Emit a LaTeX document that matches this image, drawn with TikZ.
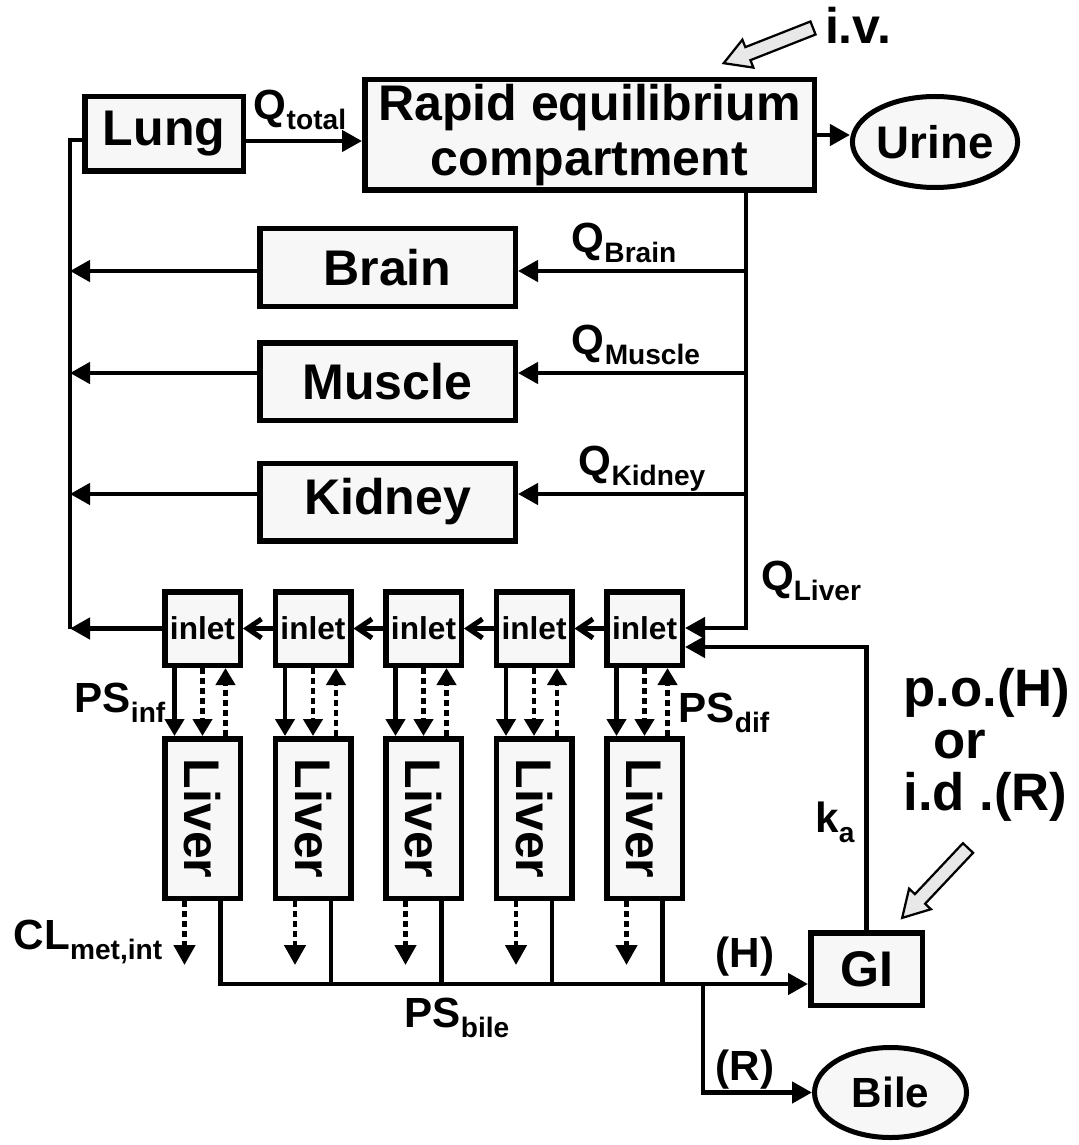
\documentclass[tikz,border=0pt]{standalone}
\usepackage{fontspec}
\setmainfont{Liberation Sans}
\usepackage{tikz}
\usetikzlibrary{positioning,arrows.meta,shapes.geometric}
\usepackage{xcolor}
\definecolor{PBPKFill}{RGB}{247,247,247}
\definecolor{PBPKDose}{RGB}{232,232,232}
\newcommand{\pkbig}{\fontsize{28.5}{31}\selectfont\bfseries}
\newcommand{\subtxt}[1]{\raisebox{-2mm}{\fontsize{16}{16}\selectfont #1}}

\begin{document}
\begin{tikzpicture}[
x=0.2mm,y=-0.2mm,
node distance=5.9mm,
box/.style={
rectangle,draw,line width=1.1mm,fill=PBPKFill,inner sep=0pt,font=\pkbig
},
organ/.style={box,minimum width=51.1mm,minimum height=15.5mm},
inlet/.style={box,minimum width=15.1mm,minimum height=14.7mm,font=\fontsize{18}{18}\selectfont\bfseries},
liver/.style={box,minimum width=15.1mm,minimum height=31.9mm},
pool/.style={ellipse,draw,line width=1mm,fill=PBPKFill,inner sep=0pt},
lbl/.style={inner sep=0pt,font=\fontsize{24}{24}\selectfont\bfseries},
flow/.style={line width=0.9mm},
arrow/.style={flow,-{Triangle[length=4mm,width=4.2mm]}},
shortarrow/.style={flow,-{Triangle[length=3.4mm,width=3.8mm]}},
dotarrow/.style={shortarrow,dash pattern=on 1.2mm off 0.8mm},
metarrow/.style={flow,dash pattern=on 1.2mm off 0.8mm,-{Triangle[length=4mm,width=4.2mm]}},
chain/.style={line width=1mm,-{Straight Barb[length=2.8mm,width=3.8mm]}},
dose/.style={draw,line width=0.45mm,fill=PBPKDose}
]
\useasboundingbox (0,0) rectangle (1078,1145);

% compartments
\node[box,minimum width=31.7mm,minimum height=14.9mm] (lung) at (164,134) {Lung};
\node[box,minimum width=89.9mm,minimum height=22.1mm,align=center] (rapid) at (589.5,135) {Rapid equilibrium\\compartment};
\node[pool,minimum width=29.8mm,minimum height=18.2mm,font=\fontsize{26}{26}\selectfont\bfseries] (urine) at (935,142) {Urine};
\node[organ] (brain) at (387.5,267.5) {Brain};
\node[organ] (muscle) at (387.5,381.5) {Muscle};
\node[organ] (kidney) at (387.5,502) {Kidney};

% liver, five units
\node[inlet] (in1) at (202.5,628.5) {inlet};
\node[inlet,right=of in1] (in2) {inlet};
\node[inlet,right=of in2] (in3) {inlet};
\node[inlet,right=of in3] (in4) {inlet};
\node[inlet,right=of in4] (in5) {inlet};
\node[liver,below=13.6mm of in1] (liv1) {\rotatebox{-90}{Liver}};
\node[liver,below=13.6mm of in2] (liv2) {\rotatebox{-90}{Liver}};
\node[liver,below=13.6mm of in3] (liv3) {\rotatebox{-90}{Liver}};
\node[liver,below=13.6mm of in4] (liv4) {\rotatebox{-90}{Liver}};
\node[liver,below=13.6mm of in5] (liv5) {\rotatebox{-90}{Liver}};

\node[box,minimum width=22.3mm,minimum height=14.5mm] (gi) at (866.5,969) {GI};
\node[pool,minimum width=30.4mm,minimum height=18mm,font=\fontsize{24}{24}\selectfont\bfseries] (bile) at (890.5,1092.5) {Bile};

% labels
\node[lbl] (qtot) at (300,110) {Q\subtxt{total}};
\node[lbl] (qbrain) at (624,243) {Q\subtxt{Brain}};
\node[lbl] (qmus) at (636,345) {Q\subtxt{Muscle}};
\node[lbl] (qkid) at (642,469) {Q\subtxt{Kidney}};
\node[lbl] (qliver) at (811,581) {Q\subtxt{Liver}};
\node[lbl] (psinf) at (120,703) {PS\subtxt{inf}};
\node[lbl] (psdif) at (724,713) {PS\subtxt{dif}};
\node[lbl] (clmet) at (88,942) {CL\subtxt{met,int}};
\node[lbl] (psbile) at (457,1018) {PS\subtxt{bile}};
\node[lbl] (ka) at (835,822) {k\subtxt{a}};
\node[lbl] (hroute) at (745,957) {(H)};
\node[lbl] (rroute) at (745,1070) {(R)};
\node[lbl,font=\pkbig] (iv) at (858,25) {i.v.};
\node[lbl,font=\fontsize{30}{29.5}\selectfont\bfseries,align=left,anchor=west] (oral) at (903,745) {p.o.(H)\\\hspace*{6mm}or\\i.d .(R)};

% dosing
\begin{scope}[shift={(813,28)},rotate=201.5]
\draw[dose] (0,-7) -- (70,-7) -- (70,-15) -- (96,0) -- (70,15) -- (70,7) -- (0,7) -- cycle;
\end{scope}
\begin{scope}[shift={(968,848)},rotate=226.7]
\draw[dose] (0,-7) -- (70,-7) -- (70,-15) -- (96,0) -- (70,15) -- (70,7) -- (0,7) -- cycle;
\end{scope}

\coordinate (ret) at (70,629);
\coordinate (qliv) at (746,628);
\coordinate (qb) at (746,271);
\coordinate (qm) at (746,373);
\coordinate (qk) at (746,494);
\coordinate (katurn) at (866,647);
\coordinate (bus) at (703,984);

% blood flow
\draw[arrow] ([yshift=-1.4mm]lung.east) -- ([yshift=-1.4mm]lung.east -| rapid.west);
\draw[arrow] (rapid.east) -- (rapid.east -| urine.west);
\draw[arrow] (rapid.south -| qliv) -- (qliv) -- (qliv -| in5.east);
\draw[arrow] (qb) -- (qb -| brain.east);
\draw[arrow] (qm) -- (qm -| muscle.east);
\draw[arrow] (qk) -- (qk -| kidney.east);
\draw[arrow] (qb -| brain.west) -- (qb -| ret);
\draw[arrow] (qm -| muscle.west) -- (qm -| ret);
\draw[arrow] (qk -| kidney.west) -- (qk -| ret);
\draw[flow] (ret) |- ([yshift=-1.2mm]lung.west);
\draw[arrow] (in1) -- (in1 -| ret);
\draw[chain] (in5) -- (in4);
\draw[chain] (in4) -- (in3);
\draw[chain] (in3) -- (in2);
\draw[chain] (in2) -- (in1);
\draw[arrow] (gi.north) -- (gi.north |- katurn) -- (katurn -| in5.east);

% inlet <-> liver
\draw[shortarrow] ([xshift=-5.6mm]in1.south) -- ([xshift=-5.6mm]liv1.north);
\draw[dotarrow] (in1.south) -- (liv1.north);
\draw[dotarrow] ([xshift=4.6mm]liv1.north) -- ([xshift=4.6mm]in1.south);
\draw[shortarrow] ([xshift=-5.6mm]in2.south) -- ([xshift=-5.6mm]liv2.north);
\draw[dotarrow] (in2.south) -- (liv2.north);
\draw[dotarrow] ([xshift=4.6mm]liv2.north) -- ([xshift=4.6mm]in2.south);
\draw[shortarrow] ([xshift=-5.6mm]in3.south) -- ([xshift=-5.6mm]liv3.north);
\draw[dotarrow] (in3.south) -- (liv3.north);
\draw[dotarrow] ([xshift=4.6mm]liv3.north) -- ([xshift=4.6mm]in3.south);
\draw[shortarrow] ([xshift=-5.6mm]in4.south) -- ([xshift=-5.6mm]liv4.north);
\draw[dotarrow] (in4.south) -- (liv4.north);
\draw[dotarrow] ([xshift=4.6mm]liv4.north) -- ([xshift=4.6mm]in4.south);
\draw[shortarrow] ([xshift=-5.6mm]in5.south) -- ([xshift=-5.6mm]liv5.north);
\draw[dotarrow] (in5.south) -- (liv5.north);
\draw[dotarrow] ([xshift=4.6mm]liv5.north) -- ([xshift=4.6mm]in5.south);

% metabolism and bile
\draw[metarrow] ([xshift=-3.6mm]liv1.south) -- ++(0,64);
\draw[metarrow] ([xshift=-3.6mm]liv2.south) -- ++(0,64);
\draw[metarrow] ([xshift=-3.6mm]liv3.south) -- ++(0,64);
\draw[metarrow] ([xshift=-3.6mm]liv4.south) -- ++(0,64);
\draw[metarrow] ([xshift=-3.6mm]liv5.south) -- ++(0,64);
\draw[arrow] ([xshift=3.6mm]liv1.south) |- (bus -| gi.west);
\draw[flow] ([xshift=3.6mm]liv2.south) |- (bus);
\draw[flow] ([xshift=3.6mm]liv3.south) |- (bus);
\draw[flow] ([xshift=3.6mm]liv4.south) |- (bus);
\draw[flow] ([xshift=3.6mm]liv5.south) |- (bus);
\draw[arrow] (bus) |- (bile);

\end{tikzpicture}
\end{document}
